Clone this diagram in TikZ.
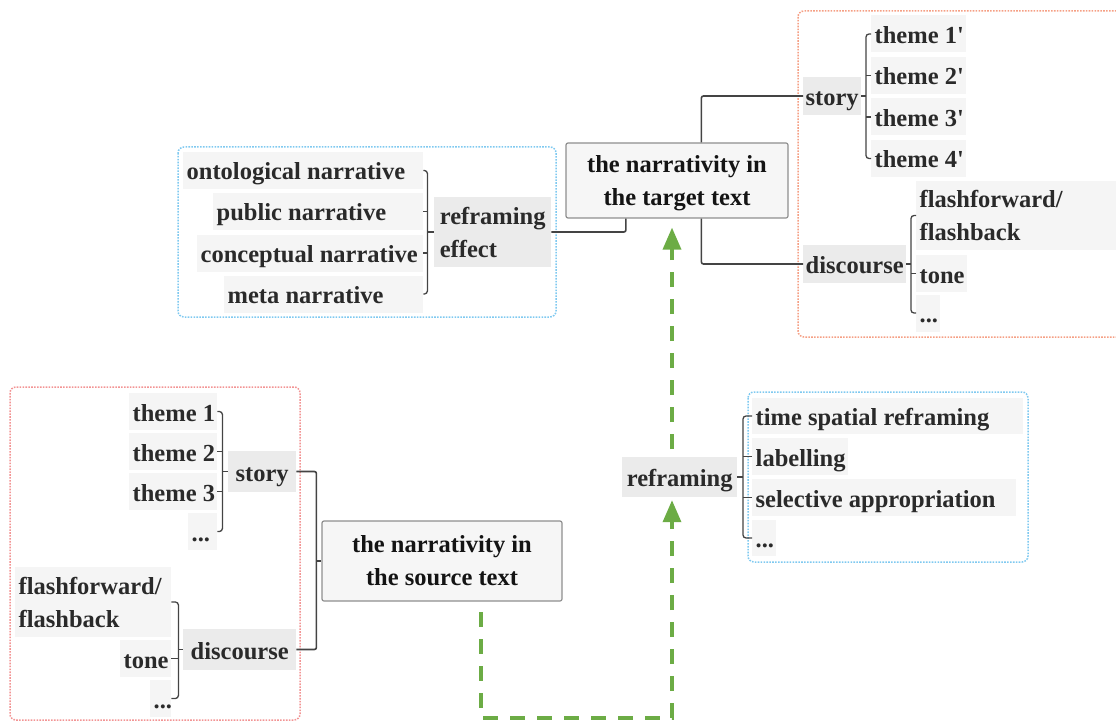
\documentclass[tikz,border=0pt]{standalone}
\usepackage{fontspec}
\setmainfont{Liberation Serif}
\usetikzlibrary{arrows.meta}
\definecolor{txt}{HTML}{2A2A2A}
\definecolor{itembg}{HTML}{F5F5F5}
\definecolor{parbg}{HTML}{EBEBEB}
\definecolor{cenfill}{HTML}{F6F6F6}
\definecolor{cenline}{HTML}{8F8F8F}
\definecolor{lnk}{HTML}{444444}
\definecolor{bluedot}{HTML}{7FC9F0}
\definecolor{pinkdot}{HTML}{F29494}
\definecolor{orangedot}{HTML}{F59F84}
\definecolor{grn}{HTML}{6CAC45}
\newcommand\itemtxt[2]{\makebox[#1][l]{#2}}
\tikzset{
  one/.style={text height=22pt, text depth=3pt},
  item/.style={fill=itembg, inner xsep=3.5pt, inner ysep=0pt, anchor=west, minimum height=37pt},
  parent/.style={fill=parbg, inner sep=0pt, anchor=west, align=left},
  central/.style={fill=cenfill, draw=cenline, line width=1.2pt, rounded corners=2pt, align=center, inner sep=0pt, text=black!92},
  conn/.style={draw=lnk, line width=1.6pt, rounded corners=2pt},
  brk/.style={draw=lnk, line width=1.3pt, rounded corners=3pt},
  frame/.style={line width=1.5pt, dash pattern=on 1.6pt off 1.3pt, rounded corners=6pt},
  flow/.style={draw=grn, line width=3.5pt, dash pattern=on 15pt off 12pt, -{Triangle[length=22pt,width=18pt]}}
}
\begin{document}
\begin{tikzpicture}[x=1pt, y=-1pt, font=\fontsize{24.5pt}{33pt}\selectfont\bfseries, text=txt]
\useasboundingbox (0,0) rectangle (1116,722);
\clip (0,0) rectangle (1116,722);

% frames
\draw[frame, draw=bluedot] (178,147) rectangle (556,317);
\draw[frame, draw=orangedot] (798,11) rectangle (1150,337);
\draw[frame, draw=pinkdot] (10,387) rectangle (300,720);
\draw[frame, draw=bluedot] (748,392) rectangle (1028,562);

% central nodes
\node[central, minimum width=222pt, minimum height=75pt] (tgt) at (677,180.5) {\rule{0pt}{22.5pt}the narrativity in\\the target text};
\node[central, minimum width=240pt, minimum height=80pt] (src) at (442,561) {the narrativity in\\the source text};

% top-left: reframing effect
\node[item, one] (ont) at (183,170.5) {\itemtxt{233pt}{ontological narrative}};
\node[item, one] (pub) at (213,211.5) {\itemtxt{203pt}{public narrative}};
\node[item, one] (con) at (197,253) {\itemtxt{219pt}{conceptual narrative}};
\node[item, one] (meta) at (224,294) {\itemtxt{192pt}{meta narrative}};
\node[parent, minimum width=117pt, minimum height=70pt] (re) at (434,232) {reframing\\effect};
\draw[brk] (ont.east) -- ++(4,0) coordinate (bo) |- (meta.east);
\draw[brk] (pub.east) -- (pub.east -| bo);
\draw[brk] (con.east) -- (con.east -| bo);
\draw[brk] (bo |- re.west) -- (re.west);
\draw[conn] (re.east) -| ([xshift=60.5pt]tgt.south west);

% top-right: target story / discourse
\node[parent, one, minimum width=58pt, minimum height=38pt] (story) at (803,96) {story};
\node[parent, one, minimum width=103pt, minimum height=38pt] (disc) at (803,264) {discourse};
\node[item, one] (ta) at (871,34) {\itemtxt{88pt}{theme 1\textquotesingle}};
\node[item, one] (tb) at (871,75.5) {\itemtxt{88pt}{theme 2\textquotesingle}};
\node[item, one] (tc) at (871,117) {\itemtxt{88pt}{theme 3\textquotesingle}};
\node[item, one] (td) at (871,158.5) {\itemtxt{88pt}{theme 4\textquotesingle}};
\node[item, align=left, text width=213pt, minimum height=69pt] (flp) at (916,215.5) {flashforward/\\flashback};
\node[item, one] (tonep) at (916,273.5) {\itemtxt{44pt}{tone}};
\node[item, one] (dotsp) at (916,313) {\itemtxt{17pt}{...}};
\draw[conn] ([xshift=136pt]tgt.north west) |- (story.west);
\draw[conn] ([xshift=136pt]tgt.south west) |- (disc.west);
\draw[brk] (ta.west) -- ++(-5,0) coordinate (bs) |- (td.west);
\draw[brk] (tb.west) -- (tb.west -| bs);
\draw[brk] (tc.west) -- (tc.west -| bs);
\draw[brk] (story.east) -- (story.east -| bs);
\draw[brk] (flp.west) -- ++(-5,0) coordinate (bd) |- (dotsp.west);
\draw[brk] (tonep.west) -- (tonep.west -| bd);
\draw[brk] (disc.east) -- (disc.east -| bd);

% reframing
\node[parent, one, minimum width=115pt, minimum height=40pt] (rf) at (622,477) {reframing};
\node[item, one, minimum height=36pt] (tsr) at (752,416) {\itemtxt{264pt}{time spatial reframing}};
\node[item, one] (lab) at (752,456.5) {\itemtxt{89pt}{labelling}};
\node[item, one] (sel) at (752,497.5) {\itemtxt{257pt}{selective appropriation}};
\node[item, one, minimum height=36pt] (dr) at (752,538) {\itemtxt{17pt}{...}};
\draw[brk] (tsr.west) -- ++(-9,0) coordinate (br) |- (dr.west);
\draw[brk] (lab.west) -- (lab.west -| br);
\draw[brk] (sel.west) -- (sel.west -| br);
\draw[brk] (rf.east) -- (rf.east -| br);

% bottom-left: source story / discourse
\node[item, one] (s1) at (129,411.5) {\itemtxt{81pt}{theme 1}};
\node[item, one] (s2) at (129,451.5) {\itemtxt{81pt}{theme 2}};
\node[item, one] (s3) at (129,491.5) {\itemtxt{81pt}{theme 3}};
\node[item, one] (s4) at (188,531.5) {\itemtxt{22pt}{...}};
\node[parent, one, minimum width=68pt, minimum height=41pt] (sst) at (228,471.5) {story};
\node[parent, one, minimum width=113pt, minimum height=41pt] (sds) at (183,649.5) {discourse};
\node[item, align=left, text width=149pt, minimum height=70pt] (fl) at (15,602) {flashforward/\\flashback};
\node[item, one] (tn) at (120,658.5) {\itemtxt{44pt}{tone}};
\node[item, one] (sd) at (150,698.5) {\itemtxt{14pt}{...}};
\draw[brk] (s1.east) -- ++(5,0) coordinate (bl) |- (s4.east);
\draw[brk] (s2.east) -- (s2.east -| bl);
\draw[brk] (s3.east) -- (s3.east -| bl);
\draw[brk] (bl |- sst.west) -- (sst.west);
\draw[brk] (fl.east) -- ++(7,0) coordinate (bk) |- (sd.east);
\draw[brk] (tn.east) -- (tn.east -| bk);
\draw[brk] (bk |- sds.west) -- (sds.west);
\draw[conn] (sst.east) -- ++(20,0) coordinate (cs) |- (sds.east);
\draw[conn] (cs |- src.west) -- (src.west);

% green flow
\coordinate (g0) at (481,612);
\coordinate (g1) at (672,718);
\coordinate (g2) at (672,449);
\draw[flow, shorten >=3pt] (g0) |- (g1) -- (rf.south -| g1);
\draw[flow, shorten >=9pt] (g2) -- (tgt.south -| g2);
\end{tikzpicture}
\end{document}
